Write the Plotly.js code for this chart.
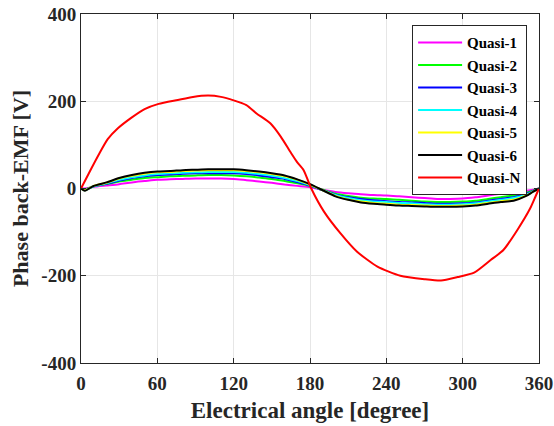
<!DOCTYPE html>
<html>
<head>
<meta charset="utf-8">
<script src="https://cdn.plot.ly/plotly-3.0.1.min.js"></script>
<style>html,body{margin:0;padding:0;background:#fff;}#chart{width:554px;height:426px;}</style>
</head>
<body>
<div id="chart"></div>
<script>
// Electrical angle [degree] for Quasi-1..6
const angleSmall = [0,3,10,20,30,40,50,60,70,80,90,100,110,120,130,140,150,160,170,180,190,200,210,220,230,240,250,260,270,280,290,300,310,320,330,340,350,355,360];
const quasi1 = [0,0,4,7,10,14,17,20,21,22,23,23,23,22,19,16,13,9,6,3,-3,-8,-11,-13,-15,-16,-18,-20,-22,-24,-24,-23,-20,-16,-12,-8,-5,-3,0];
const quasi2 = [0,-2,5,10,16,20,24,26,28,29,30,31,31,30,28,25,22,17,12,6,-3,-12,-17,-21,-23,-24,-26,-28,-30,-31,-31,-30,-28,-24,-20,-16,-10,-5,0];
const quasi3 = [0,-3,5,11,18,24,28,31,32,34,35,35,35,35,33,30,26,22,15,7,-4,-14,-20,-24,-27,-29,-31,-32,-33,-35,-35,-34,-32,-28,-24,-20,-12,-6,0];
const quasi4 = [0,-4,5,12,20,26,30,33,35,36,37,38,38,38,36,33,29,24,17,8,-4,-15,-22,-27,-30,-31,-33,-34,-36,-37,-37,-36,-34,-30,-26,-22,-14,-7,0];
const quasi5 = [0,-4,6,13,23,29,34,37,38,40,41,42,42,42,40,37,33,28,20,9,-4,-17,-25,-30,-33,-35,-37,-38,-39,-40,-40,-39,-37,-33,-29,-26,-16,-8,0];
const quasi6 = [0,-5,6,14,24,31,36,39,40,42,43,44,44,44,42,39,35,30,21,10,-4,-18,-26,-32,-35,-37,-39,-40,-41,-42,-42,-41,-39,-35,-31,-28,-17,-8,0];
// Electrical angle [degree] for Quasi-N
const angleN = [0,6,14,21,29,40,50,61,76,88,100,110,120,130,138,149,157,165,170,175,181,191,204,217,233,251,270,283,296,309,322,332,343,353,357,360];
const quasiN = [0,34,78,113,138,163,182,194,203,210,213,210,202,191,172,149,119,82,60,42,0,-53,-103,-145,-179,-200,-208,-211,-203,-193,-164,-141,-95,-46,-20,0];

const seriesNames = ['Quasi-1','Quasi-2','Quasi-3','Quasi-4','Quasi-5','Quasi-6','Quasi-N'];
const seriesColors = ['#FF00FF','#00FF00','#0000FF','#00FFFF','#FFFF00','#000000','#FF0000'];
const xTickVals = [0,60,120,180,240,300,360];
const xTickText = ['0','60','120','180','240','300','360'];
const yTickVals = [-400,-200,0,200,400];
const yTickText = ['-400','-200','0','200','400'];

const ys = [quasi1,quasi2,quasi3,quasi4,quasi5,quasi6,quasiN];
const traces = ys.map((y,i)=>({
  x: i===6 ? angleN : angleSmall,
  y: y,
  name: seriesNames[i],
  type: 'scatter',
  mode: 'lines',
  line: {color: seriesColors[i], width: 2, shape: 'spline', smoothing: 0.6}
}));

const fontFam = 'Liberation Serif, Times New Roman, serif';
const axisCommon = {
  ticks: 'inside', ticklen: 5, tickwidth: 1, tickcolor: '#262626',
  showline: true, linecolor: '#262626', linewidth: 1, mirror: 'ticks',
  showgrid: true, gridcolor: '#e6e6e6', gridwidth: 1, zeroline: false,
  tickfont: {family: fontFam, size: 19, color: '#262626', weight: 'bold'}
};

const layout = {
  width: 554, height: 426,
  margin: {l: 81, r: 15, t: 14, b: 63},
  paper_bgcolor: '#ffffff', plot_bgcolor: '#ffffff',
  showlegend: true,
  xaxis: Object.assign({}, axisCommon, {
    range: [0,360], tickmode: 'array', tickvals: xTickVals, ticktext: xTickText,
    ticklabelstandoff: 3,
    title: {text: 'Electrical angle [degree]', standoff: 9,
            font: {family: fontFam, size: 23, color: '#262626', weight: 'bold'}}
  }),
  yaxis: Object.assign({}, axisCommon, {
    range: [-400,400], tickmode: 'array', tickvals: yTickVals, ticktext: yTickText,
    title: {text: 'Phase back-EMF [V]', standoff: 6,
            font: {family: fontFam, size: 22, color: '#262626', weight: 'bold'}}
  }),
  legend: {
    x: 0.974, y: 0.968, xanchor: 'right', yanchor: 'top',
    bgcolor: '#ffffff', bordercolor: '#262626', borderwidth: 1,
    font: {family: fontFam, size: 15, color: '#000000', weight: 'bold'},
    itemwidth: 44, tracegroupgap: 0
  }
};

Plotly.newPlot('chart', traces, layout, {displayModeBar: false, staticPlot: true});
</script>
</body>
</html>
